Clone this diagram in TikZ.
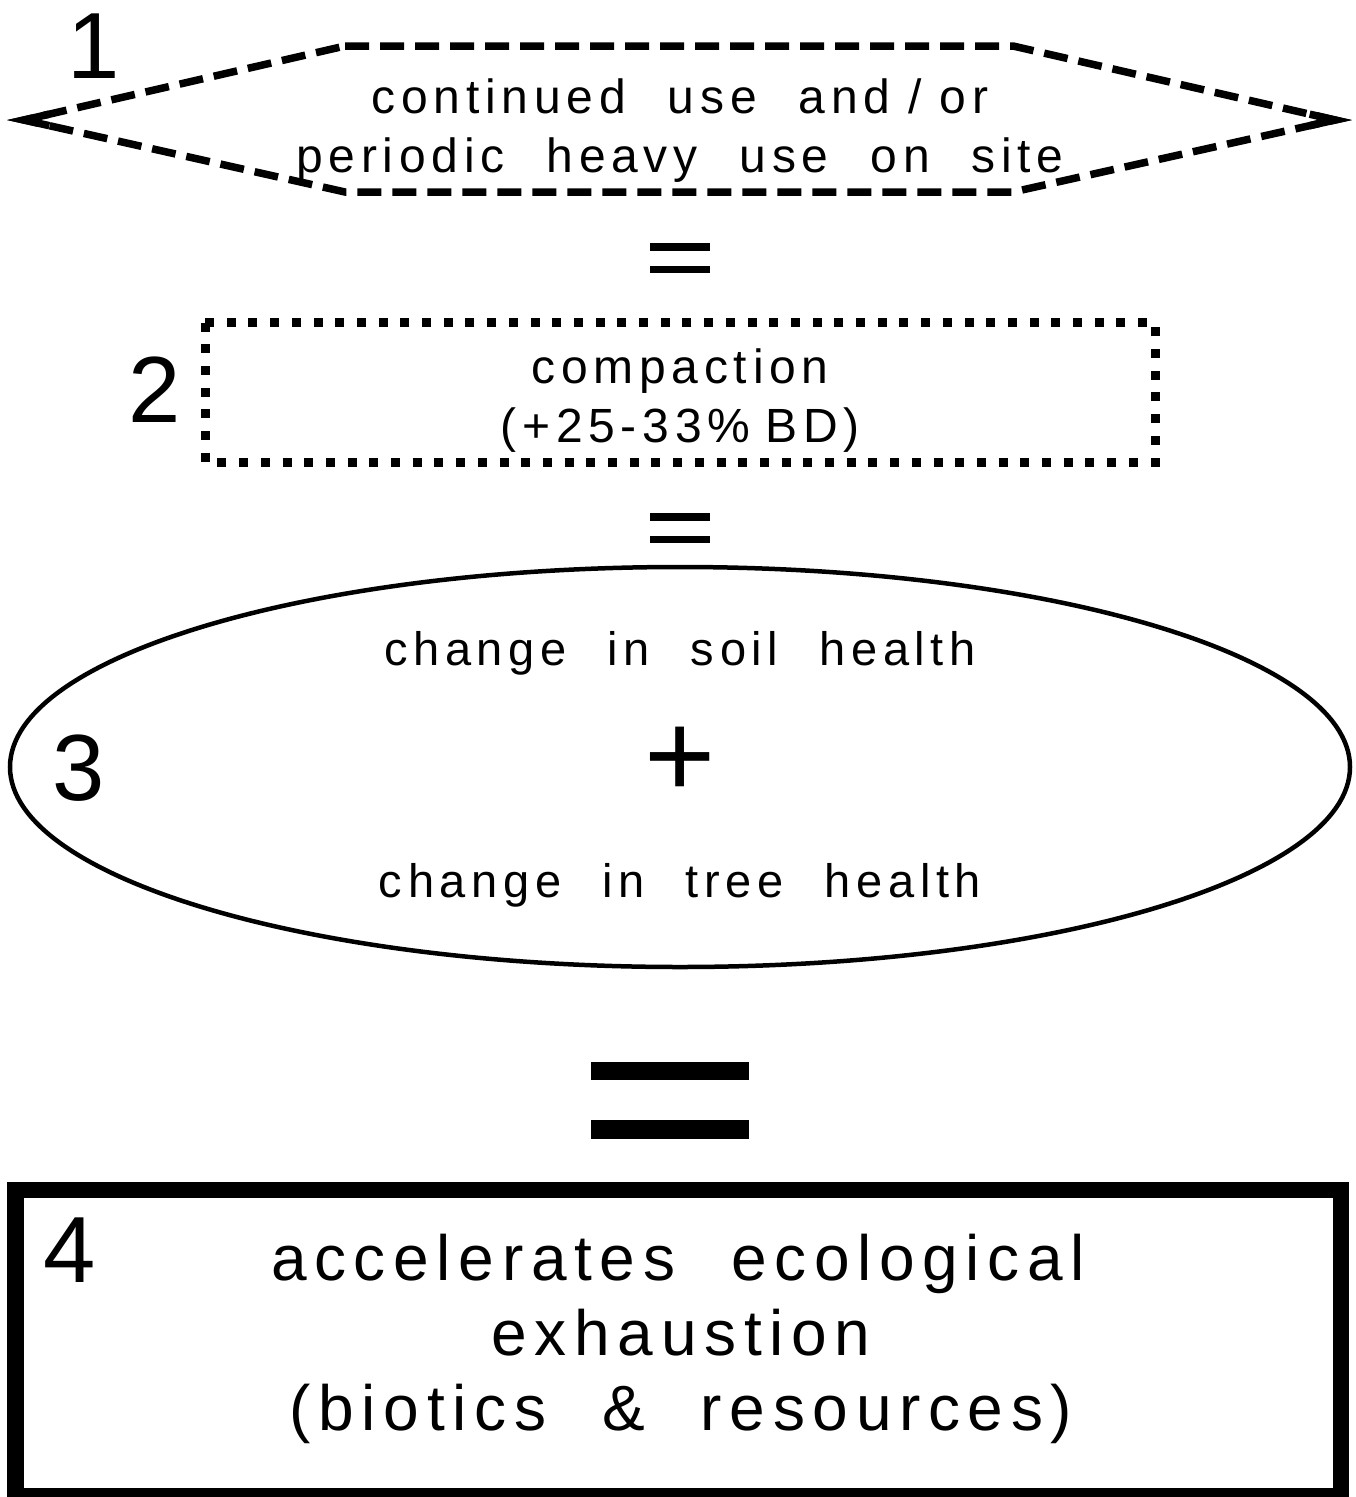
\documentclass[tikz,border=0pt]{standalone}
\usepackage{fontspec}
\setmainfont{Liberation Sans}[LetterSpace=12,WordSpace=2.2]
\newfontfamily\plainsans{Liberation Sans}
\usetikzlibrary{calc,shapes.geometric}
\begin{document}
\begin{tikzpicture}[x=1pt,y=-1pt,
  txt/.style={inner sep=0pt, anchor=base},
  numlbl/.style={txt, font=\plainsans\fontsize{94}{100}\selectfont},
  hexfont/.style={txt, font=\fontsize{48}{58}\selectfont},
  cmpfont/.style={txt, font=\fontsize{48}{58}\selectfont},
  ellfont/.style={txt, font=\fontsize{47}{58}\selectfont},
  boxfont/.style={txt, font=\fontsize{64}{75}\selectfont},
  hexline/.style={line width=7.5pt, miter limit=20},
  eqbar/.style={fill=black}
]
\useasboundingbox (0,0) rectangle (1356,1497);

% ---- 1: hexagon
\coordinate (hL)  at (24,120);
\coordinate (hTL) at (345,46);
\coordinate (hTR) at (1013,46);
\coordinate (hR)  at (1335,120);
\coordinate (hBR) at (1013,192);
\coordinate (hBL) at (345,192);
\draw[hexline, dash pattern=on 24pt off 11pt] (hTL) -- (hTR) -- (hR) -- (hBR) -- (hBL) -- (hL) -- cycle;
\draw[hexline] ($(hL)!26pt!(hTL)$) -- (hL) -- ($(hL)!26pt!(hBL)$);
\draw[hexline] ($(hR)!26pt!(hTR)$) -- (hR) -- ($(hR)!26pt!(hBR)$);
\node[numlbl] (n1) at (94,78) {1};
\node[hexfont] (t1a) at (680,113) {continued use \mbox{and}\hspace*{18pt}\mbox{/}\hspace*{18pt}\mbox{or}};
\node[hexfont] (t1b) at (680,172) {periodic heavy use on site};

% ---- equals 1
\fill[eqbar] (650,243.3) rectangle (710,250.7);
\fill[eqbar] (650,266) rectangle (710,273.3);

% ---- 2: dotted rectangle
\draw[line width=9pt, dash pattern=on 9pt off 12.7pt] (205,322.5) rectangle (1155,462);
\node[numlbl] (n2) at (155,422) {2};
\node[cmpfont] (t2a) at (680,383) {compaction};
\node[cmpfont] (t2b) at (680,442) {\mbox{(+25-33\%}\hspace*{15pt}\mbox{BD)}};

% ---- equals 2
\fill[eqbar] (650,513.3) rectangle (710,520.7);
\fill[eqbar] (650,536) rectangle (710,543.3);

% ---- 3: ellipse
\node[ellipse, draw, line width=4.5pt, minimum width=1340pt, minimum height=400pt, inner sep=0pt] (ell) at (680,767) {};
\node[numlbl] (n3) at (79,800) {3};
\node[ellfont] (t3a) at (680,665) {change in soil health};
\node[inner sep=0pt, font=\plainsans\fontsize{122}{122}\selectfont] (plus) at (680,762) {+};
\node[ellfont] (t3b) at (680,897) {change in tree health};

% ---- big equals
\fill[eqbar] (591,1062) rectangle (749,1080);
\fill[eqbar] (591,1120) rectangle (749,1139);

% ---- 4: thick box
\draw[line width=16.5pt] (15.5,1190) rectangle (1341,1496);
\node[numlbl] (n4) at (70,1282) {4};
\node[boxfont] (t4a) at (678,1280) {accelerates ecological};
\node[boxfont] (t4b) at (681,1355) {exhaustion};
\node[boxfont] (t4c) at (681,1430) {(biotics \& resources)};
\end{tikzpicture}
\end{document}
